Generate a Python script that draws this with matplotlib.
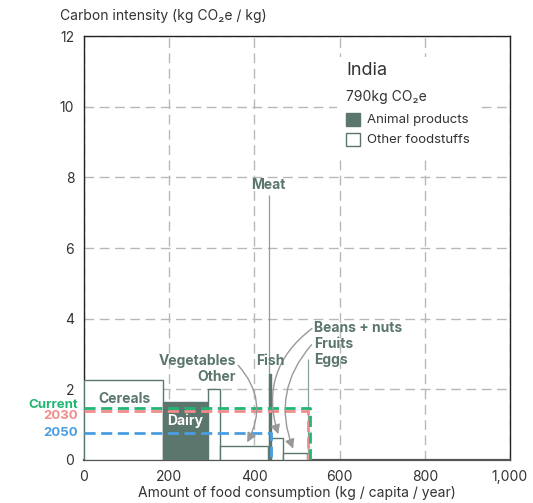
import matplotlib
matplotlib.use("Agg")
import matplotlib.pyplot as plt
import numpy as np

plt.rcParams['font.family'] = ['Inter', 'DejaVu Sans']

# food groups (width = consumption kg/capita/year, height = kg CO2e/kg)
foods = ['Cereals', 'Dairy', 'Other', 'Vegetables', 'Meat', 'Fish',
         'Beans + nuts', 'Fruits', 'Eggs']
consumption = [186, 106, 27, 112, 3, 5, 27, 57, 3]
intensity = [2.27, 1.65, 2.02, 0.39, 7.5, 2.43, 0.63, 0.21, 2.85]
is_animal = [False, True, False, False, True, True, False, False, True]

# average intensity envelopes
scen_names = ['Current', '2030', '2050']
scen_intensity = [1.46, 1.38, 0.75]
scen_consumption = [531, 525, 440]
scen_colors = ['#22b573', '#f28b8b', '#4a9de0']

ink = '#5b766c'
thin_ink = '#8aa198'
txt = '#333333'

fig = plt.figure(figsize=(5.33, 5.03), dpi=100)
ax = fig.add_axes([0.1576, 0.0855, 0.7992, 0.8429])

lefts = np.concatenate([[0], np.cumsum(consumption)[:-1]])
for f, l, w, h, a in zip(foods, lefts, consumption, intensity, is_animal):
    if f in ('Meat', 'Eggs'):
        # very small groups show up as a hairline
        ax.bar(l + w, h, width=0.01, align='edge', color=thin_ink,
               edgecolor=thin_ink, linewidth=0.9, zorder=3)
        continue
    ax.bar(l, h, width=w, align='edge',
           color=ink if a else 'white', edgecolor=ink, linewidth=1.0, zorder=3)

# envelopes, 2050 first so Current sits on top
for i in [2, 1, 0]:
    X, H = scen_consumption[i], scen_intensity[i]
    ax.plot([0, X, X], [H, H, 0], color=scen_colors[i], lw=2,
            dashes=(4, 2), zorder=4, solid_capstyle='butt')

ax.set_xlim(0, 1000)
ax.set_ylim(0, 12)
ax.set_xticks([0, 200, 400, 600, 800, 1000])
ax.set_xticklabels(['0', '200', '400', '600', '800', '1,000'])
ax.set_yticks([0, 2, 4, 6, 8, 10, 12])
ax.tick_params(length=0, labelsize=10, labelcolor=txt, pad=7)
ax.grid(True, color='#b8b8b8', lw=1, dashes=(7, 4), zorder=0)
ax.set_axisbelow(True)
for s in ax.spines.values():
    s.set_color('#222222')
    s.set_linewidth(1)
ax.spines['bottom'].set_linewidth(1.6)
ax.spines['bottom'].set_color('#555555')

ax.set_xlabel('Amount of food consumption (kg / capita / year)', fontsize=10,
              color=txt, labelpad=2)
fig.text(60 / 533, 1 - 16 / 503, 'Carbon intensity (kg CO₂e / kg)', fontsize=10,
         color=txt, va='center', ha='left')

# food labels
lab = dict(color=ink, fontsize=10, fontweight='bold', zorder=6)
ax.text(94, 1.73, 'Cereals', ha='center', va='center', **lab)
ax.text(237, 1.10, 'Dairy', ha='center', va='center', color='white',
        fontsize=10, fontweight='bold', zorder=6)
ax.text(357, 2.81, 'Vegetables', ha='right', va='center', **lab)
ax.text(356, 2.36, 'Other', ha='right', va='center', **lab)
ax.text(438, 2.81, 'Fish', ha='center', va='center', **lab)
ax.text(432, 7.78, 'Meat', ha='center', va='center', **lab)
ax.text(540, 3.74, 'Beans + nuts', ha='left', va='center', **lab)
ax.text(540, 3.28, 'Fruits', ha='left', va='center', **lab)
ax.text(540, 2.82, 'Eggs', ha='left', va='center', **lab)

arr = dict(arrowstyle='-|>', color='#999999', lw=1, mutation_scale=14,
           shrinkA=0, shrinkB=0)
ax.annotate('', xy=(383, 0.50), xytext=(362, 2.68),
            arrowprops=dict(connectionstyle='arc3,rad=-0.35', **arr), zorder=5)
ax.annotate('', xy=(456, 0.73), xytext=(535, 3.72),
            arrowprops=dict(connectionstyle='arc3,rad=0.35', **arr), zorder=5)
ax.annotate('', xy=(491, 0.32), xytext=(534, 3.26),
            arrowprops=dict(connectionstyle='arc3,rad=0.3', **arr), zorder=5)

# scenario labels left of the axis
sl = dict(ha='right', va='center', fontsize=9.5, fontweight='bold', clip_on=False)
ax.text(-14, 1.57, 'Current', color=scen_colors[0], **sl)
ax.text(-14, 1.24, '2030', color=scen_colors[1], **sl)
ax.text(-14, 0.77, '2050', color=scen_colors[2], **sl)

# legend panel
ax.add_patch(plt.Rectangle((0.594, 0.719), 0.329, 0.231, transform=ax.transAxes,
                           facecolor='white', edgecolor='none', zorder=2))
ax.text(0.616, 0.918, 'India', transform=ax.transAxes, fontsize=13,
        color=txt, va='center', zorder=6)
ax.text(0.616, 0.856, '790kg CO₂e', transform=ax.transAxes, fontsize=10,
        color=txt, va='center', zorder=6)
ax.add_patch(plt.Rectangle((0.616, 0.787), 0.033, 0.031, transform=ax.transAxes,
                           facecolor=ink, edgecolor=ink, lw=1, zorder=6))
ax.add_patch(plt.Rectangle((0.616, 0.740), 0.033, 0.031, transform=ax.transAxes,
                           facecolor='white', edgecolor=ink, lw=1, zorder=6))
ax.text(0.665, 0.802, 'Animal products', transform=ax.transAxes, fontsize=9.5,
        color=txt, va='center', zorder=6)
ax.text(0.665, 0.755, 'Other foodstuffs', transform=ax.transAxes, fontsize=9.5,
        color=txt, va='center', zorder=6)

fig.savefig('out.png', dpi=100)
